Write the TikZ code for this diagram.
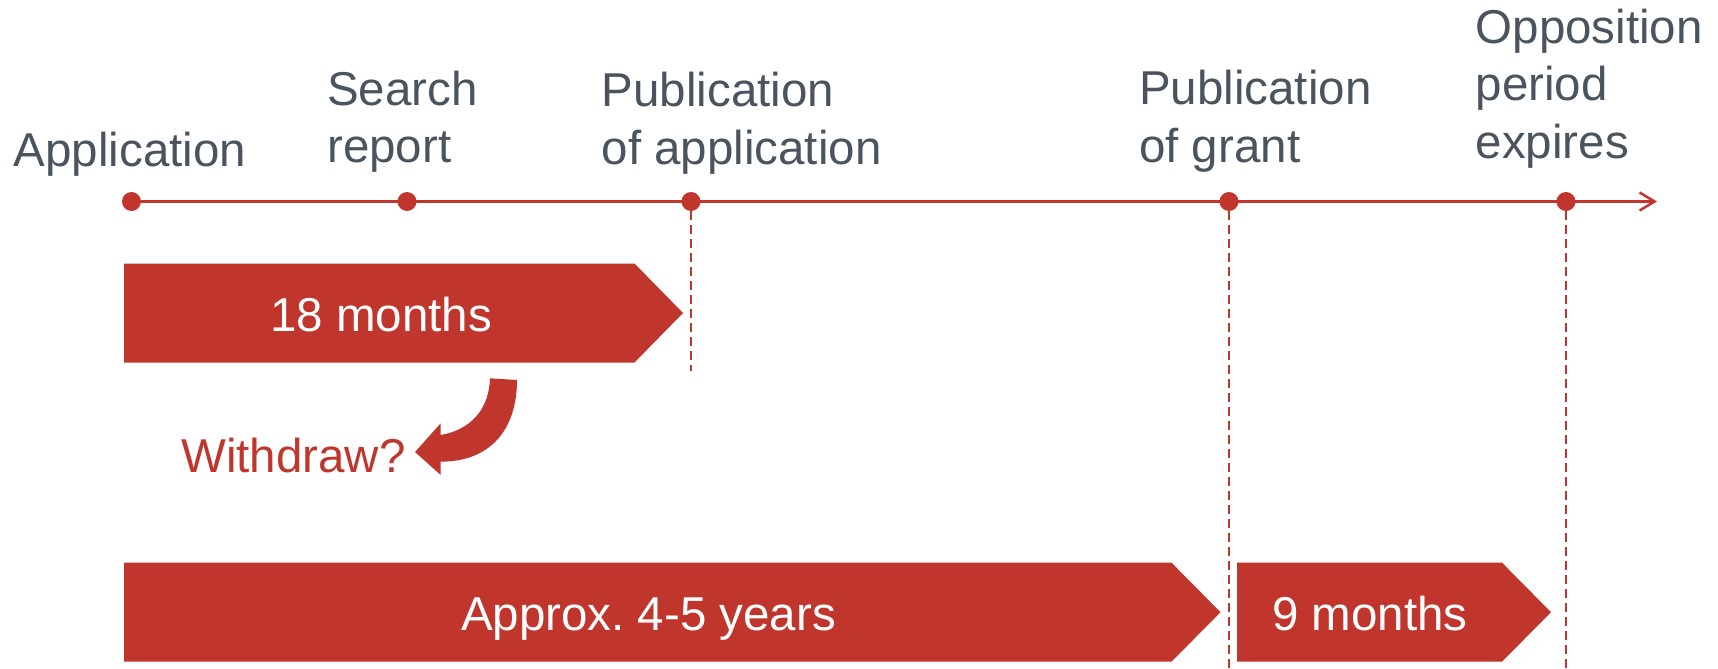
\documentclass[tikz,border=0pt]{standalone}
\usepackage{fontspec}
\setmainfont{Liberation Sans}
\usetikzlibrary{arrows.meta}
\definecolor{epred}{RGB}{192,54,44}
\definecolor{epgray}{RGB}{74,84,95}
\frenchspacing
\begin{document}
\begin{tikzpicture}[x=1pt,y=-1pt,
  lbl/.style={font=\fontsize{47.5}{57.5}\selectfont, text=epgray, inner sep=0pt, anchor=base west},
  boxtxt/.style={font=\fontsize{47.5}{57.5}\selectfont, text=white, inner sep=0pt, anchor=base},
  dot/.style={circle, fill=epred, inner sep=0pt, minimum size=19pt},
  tl/.style={draw=epred, line width=2.5pt},
  guide/.style={draw=epred, line width=1.6pt, dash pattern=on 9pt off 5pt},
  period/.style={fill=epred}]
\useasboundingbox (0,0) rectangle (1718,669);

% period boxes
\fill[period] (124,263.5) -- (634.5,263.5) -- (683,313) -- (634.5,362.5) -- (124,362.5) -- cycle;
\node[boxtxt] (m18) at (381,331.5) {18 months};
\fill[period] (124,562.7) -- (1171.5,562.7) -- (1220.5,612.2) -- (1171.5,661.7) -- (124,661.7) -- cycle;
\node[boxtxt] (yrs) at (648.5,630) {Approx.\ 4-5 years};
\fill[period] (1237,562.7) -- (1502,562.7) -- (1551,612.2) -- (1502,661.7) -- (1237,661.7) -- cycle;
\node[boxtxt] (m9) at (1370,630) {9 months};

% timeline dots
\node[dot] (app) at (131.5,201.5) {};
\node[dot] (srch) at (407,201.5) {};
\node[dot] (pubapp) at (691,201.5) {};
\node[dot] (grant) at (1229,201.5) {};
\node[dot] (opp) at (1566,201.5) {};
\coordinate (tipend) at (1657,201.5);
\coordinate (pubappend) at (691,371);
\coordinate (grantend) at (1229,669);
\coordinate (oppend) at (1566,669);

\draw[tl, -{Straight Barb[length=15pt,width=18pt]}] (app) -- (tipend);
\draw[guide] (pubapp) -- (pubappend);
\draw[guide] (grant) -- (grantend);
\draw[guide] (opp) -- (oppend);

% labels
\node[lbl] (lapp) at (13.5,166.5) {Application};
\node[lbl] (lsrch) at (327,162.7) {\begin{tabular}[b]{@{}l@{}}Search\\report\end{tabular}};
\node[lbl] (lpubapp) at (601.5,164) {\begin{tabular}[b]{@{}l@{}}Publication\\of application\end{tabular}};
\node[lbl] (lgrant) at (1139,162.3) {\begin{tabular}[b]{@{}l@{}}Publication\\of grant\end{tabular}};
\node[lbl] (lopp) at (1475.5,158.3) {\begin{tabular}[b]{@{}l@{}}Opposition\\period\\expires\end{tabular}};

% withdraw
\node[lbl, text=epred] (wd) at (181,472) {Withdraw?};
\fill[period] (490,378.3) -- (517,380) .. controls (517,430) and (490,461.7) .. (440.7,461.7)
  -- (440.7,475) -- (415,452) -- (440.7,423.3) -- (440.7,435)
  .. controls (470,430) and (489,410) .. (490,378.3) -- cycle;
\end{tikzpicture}
\end{document}
